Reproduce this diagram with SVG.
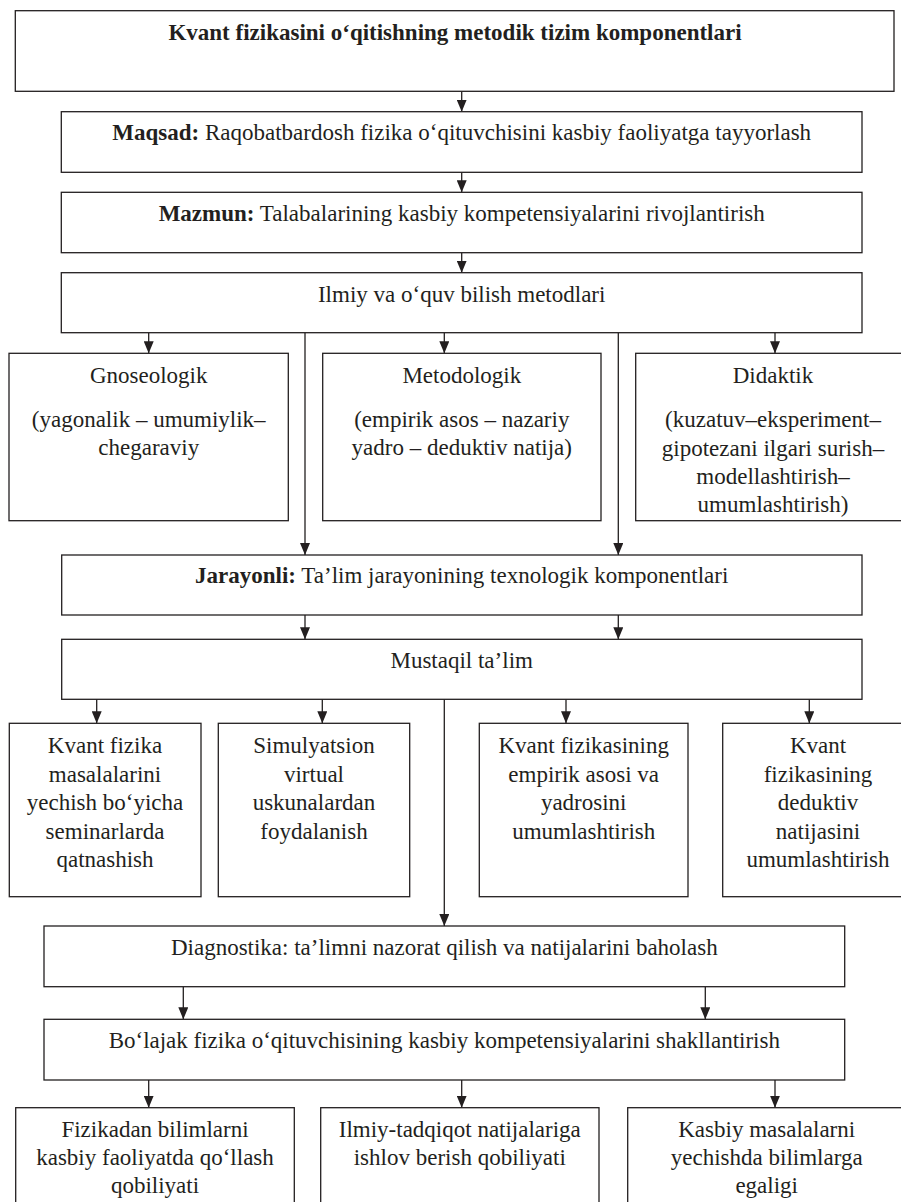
<svg xmlns="http://www.w3.org/2000/svg" width="901" height="1202" viewBox="0 0 901 1202" font-family="'Liberation Serif', serif">
<style>
rect{fill:#fff;stroke:#231f20;stroke-width:1.3}
text{font-family:'Liberation Serif',serif;font-size:23px;fill:#231f20;text-anchor:middle}
.b{font-weight:bold}
#connectors line{stroke:#231f20;stroke-width:1.3;marker-end:url(#ah)}
</style>
<defs>
<marker id="ah" markerUnits="userSpaceOnUse" viewBox="0 0 12 10" markerWidth="12" markerHeight="10" refX="12" refY="5" orient="auto">
<path d="M0,0 L12,5 L0,10 z" fill="#231f20"/>
</marker>
</defs>
<rect x="0" y="0" width="901" height="1202" style="stroke:none"/>
<g id="connectors">
<line x1="461.7" y1="91.3" x2="461.7" y2="111.7"/>
<line x1="461.7" y1="172.3" x2="461.7" y2="192.3"/>
<line x1="461.7" y1="252.7" x2="461.7" y2="272.7"/>
<line x1="148.7" y1="332.7" x2="148.7" y2="353.3"/>
<line x1="444.3" y1="332.7" x2="444.3" y2="353.3"/>
<line x1="775" y1="332.7" x2="775" y2="353.3"/>
<line x1="305" y1="332.7" x2="305" y2="555"/>
<line x1="618.3" y1="332.7" x2="618.3" y2="555"/>
<line x1="305" y1="615" x2="305" y2="639.3"/>
<line x1="618.3" y1="615" x2="618.3" y2="639.3"/>
<line x1="96.7" y1="699.3" x2="96.7" y2="723.3"/>
<line x1="322.3" y1="699.3" x2="322.3" y2="723.3"/>
<line x1="566" y1="699.3" x2="566" y2="723.3"/>
<line x1="809.3" y1="699.3" x2="809.3" y2="723.3"/>
<line x1="444.3" y1="699.3" x2="444.3" y2="926"/>
<line x1="183.3" y1="986.7" x2="183.3" y2="1019.3"/>
<line x1="705.3" y1="986.7" x2="705.3" y2="1019.3"/>
<line x1="148.7" y1="1080" x2="148.7" y2="1107.7"/>
<line x1="461.7" y1="1080" x2="461.7" y2="1107.7"/>
<line x1="775" y1="1080" x2="775" y2="1107.7"/>
</g>
<g id="title">
<rect x="15.3" y="10.7" width="878.7" height="80.6"/>
<text x="455" y="40.3" class="b">Kvant fizikasini o‘qitishning metodik tizim komponentlari</text>
</g>
<g id="maqsad">
<rect x="61.3" y="111.7" width="800.7" height="60.6"/>
<text x="461.7" y="140"><tspan class="b">Maqsad:</tspan> Raqobatbardosh fizika o‘qituvchisini kasbiy faoliyatga tayyorlash</text>
</g>
<g id="mazmun">
<rect x="61.3" y="192.3" width="800.7" height="60.4"/>
<text x="461.7" y="221"><tspan class="b">Mazmun:</tspan> Talabalarining kasbiy kompetensiyalarini rivojlantirish</text>
</g>
<g id="ilmiy">
<rect x="61.3" y="272.7" width="800.7" height="60"/>
<text x="461.7" y="301.7">Ilmiy va o‘quv bilish metodlari</text>
</g>
<g id="gnoseologik">
<rect x="9" y="353.3" width="279.3" height="167.4"/>
<text x="148.7" y="382.7">Gnoseologik</text>
<text x="148.7" y="426.7">(yagonalik – umumiylik–</text>
<text x="148.7" y="455">chegaraviy</text>
</g>
<g id="metodologik">
<rect x="322.7" y="353.3" width="278.3" height="167.4"/>
<text x="461.8" y="382.7">Metodologik</text>
<text x="461.8" y="426.7">(empirik asos – nazariy</text>
<text x="461.8" y="455">yadro – deduktiv natija)</text>
</g>
<g id="didaktik">
<rect x="635.7" y="353.3" width="275" height="167.4"/>
<text x="773" y="382.7">Didaktik</text>
<text x="773" y="427">(kuzatuv–eksperiment–</text>
<text x="773" y="455.5">gipotezani ilgari surish–</text>
<text x="773" y="484">modellashtirish–</text>
<text x="773" y="512">umumlashtirish)</text>
</g>
<g id="jarayonli">
<rect x="61.7" y="555" width="800.3" height="60"/>
<text x="461.7" y="583.3"><tspan class="b">Jarayonli:</tspan> Ta’lim jarayonining texnologik komponentlari</text>
</g>
<g id="mustaqil">
<rect x="61.7" y="639.3" width="800.3" height="60"/>
<text x="461.7" y="668.3">Mustaqil ta’lim</text>
</g>
<g id="seminar">
<rect x="9.3" y="723.3" width="191.7" height="173.4"/>
<text x="105" y="752.7">Kvant fizika</text>
<text x="105" y="781.5">masalalarini</text>
<text x="105" y="810">yechish bo‘yicha</text>
<text x="105" y="838.7">seminarlarda</text>
<text x="105" y="866.7">qatnashish</text>
</g>
<g id="simulyatsion">
<rect x="218.3" y="723.3" width="191.4" height="173.4"/>
<text x="314" y="752.7">Simulyatsion</text>
<text x="314" y="781.5">virtual</text>
<text x="314" y="810">uskunalardan</text>
<text x="314" y="838.7">foydalanish</text>
</g>
<g id="empirik">
<rect x="479.3" y="723.3" width="208.7" height="173.4"/>
<text x="583.7" y="752.7">Kvant fizikasining</text>
<text x="583.7" y="781.5">empirik asosi va</text>
<text x="583.7" y="810">yadrosini</text>
<text x="583.7" y="838.7">umumlashtirish</text>
</g>
<g id="deduktiv">
<rect x="722.7" y="723.3" width="195" height="173.4"/>
<text x="818" y="752.7">Kvant</text>
<text x="818" y="781.5">fizikasining</text>
<text x="818" y="810">deduktiv</text>
<text x="818" y="838.7">natijasini</text>
<text x="818" y="866.7">umumlashtirish</text>
</g>
<g id="diagnostika">
<rect x="44" y="926" width="800.7" height="60.7"/>
<text x="444.3" y="955">Diagnostika: ta’limni nazorat qilish va natijalarini baholash</text>
</g>
<g id="bolajak">
<rect x="44" y="1019.3" width="800.7" height="60.7"/>
<text x="444.3" y="1048.3">Bo‘lajak fizika o‘qituvchisining kasbiy kompetensiyalarini shakllantirish</text>
</g>
<g id="fizikadan">
<rect x="15.7" y="1107.7" width="278.6" height="110"/>
<text x="155" y="1136.7">Fizikadan bilimlarni</text>
<text x="155" y="1165">kasbiy faoliyatda qo‘llash</text>
<text x="155" y="1193.3">qobiliyati</text>
</g>
<g id="ilmiytadqiqot">
<rect x="320.7" y="1107.7" width="278.3" height="110"/>
<text x="459.8" y="1136.7">Ilmiy-tadqiqot natijalariga</text>
<text x="459.8" y="1165">ishlov berish qobiliyati</text>
</g>
<g id="kasbiy">
<rect x="627.7" y="1107.7" width="278.3" height="110"/>
<text x="766.7" y="1136.7">Kasbiy masalalarni</text>
<text x="766.7" y="1165">yechishda bilimlarga</text>
<text x="766.7" y="1193.3">egaligi</text>
</g>
</svg>
